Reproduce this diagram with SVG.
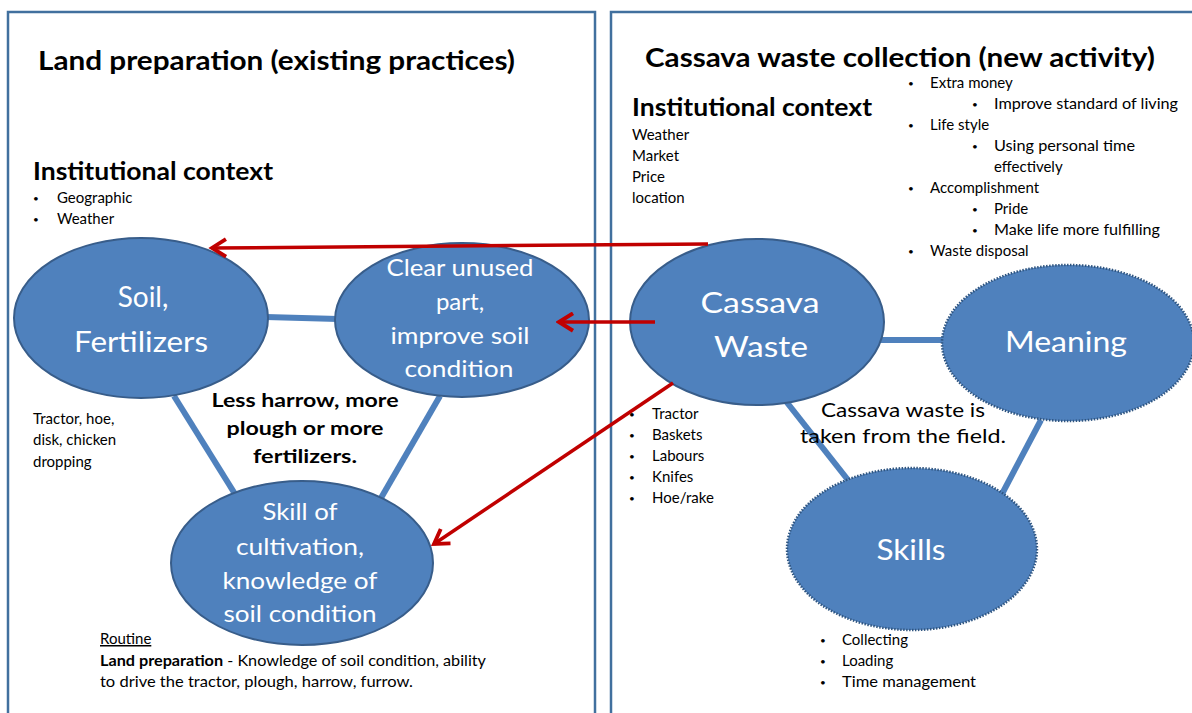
<svg xmlns="http://www.w3.org/2000/svg" width="1192" height="713" viewBox="0 0 1192 713">
<defs>
<style>
text{font-family:Lato,"Open Sans","Liberation Sans",sans-serif;fill:#000}
.panel{fill:none;stroke:#41709E;stroke-width:2.5}
.node{fill:#4F81BD;stroke:#385D8A;stroke-width:2}
.dnode{fill:#4F81BD;stroke:#2F5580;stroke-width:2.5;stroke-dasharray:1.5 1.5}
.lbl{fill:#fff;text-anchor:middle}
.big{font-size:28px}
.mid{font-size:24px}
.h1{font-size:26px;font-weight:bold}
.h2{font-size:24px;font-weight:bold}
.sm{font-size:15px}
.b{font-size:10px}
.link{stroke:#4F81BD;stroke-width:6;fill:none}
.red{stroke:#C00000;stroke-width:3.5;fill:none}
</style>
<marker id="ah" viewBox="0 0 12 12" refX="10" refY="6" markerWidth="6" markerHeight="6" orient="auto" markerUnits="strokeWidth">
<path d="M2,1 L10,6 L2,11" fill="none" stroke="#C00000" stroke-width="2.2"/>
</marker>
</defs>

<g id="panels">
<rect class="panel" x="8" y="12" width="587" height="740"/>
<rect class="panel" x="611" y="12" width="620" height="740"/>
</g>

<g id="headings">
<text class="h1" x="38" y="70" textLength="477" lengthAdjust="spacingAndGlyphs">Land preparation (existing practices)</text>
<text class="h1" x="645" y="67" textLength="510" lengthAdjust="spacingAndGlyphs">Cassava waste collection (new activity)</text>
<text class="h2" x="33" y="180" textLength="240" lengthAdjust="spacingAndGlyphs">Institutional context</text>
<text class="h2" x="632" y="116" textLength="240" lengthAdjust="spacingAndGlyphs">Institutional context</text>
</g>

<g id="connectors">
<line class="link" x1="266" y1="317" x2="338" y2="319"/>
<line class="link" x1="174" y1="396" x2="235" y2="494"/>
<line class="link" x1="440" y1="396" x2="381" y2="498"/>
<line class="link" x1="880" y1="340" x2="945" y2="340"/>
<line class="link" x1="785" y1="400" x2="848" y2="480"/>
<line class="link" x1="1041" y1="420" x2="1002" y2="494"/>
</g>

<g id="node-soil">
<ellipse class="node" cx="141" cy="318" rx="127" ry="80"/>
<text class="lbl big" x="143" y="307">Soil,</text>
<text class="lbl big" x="141" y="352" textLength="134" lengthAdjust="spacingAndGlyphs">Fertilizers</text>
</g>

<g id="node-clear">
<ellipse class="node" cx="462" cy="320" rx="127" ry="77"/>
<text class="lbl mid" x="460" y="276" textLength="147" lengthAdjust="spacingAndGlyphs">Clear unused</text>
<text class="lbl mid" x="460" y="310">part,</text>
<text class="lbl mid" x="460" y="344" textLength="139" lengthAdjust="spacingAndGlyphs">improve soil</text>
<text class="lbl mid" x="459" y="377" textLength="109" lengthAdjust="spacingAndGlyphs">condition</text>
</g>

<g id="node-skill">
<ellipse class="node" cx="302" cy="563" rx="131" ry="82"/>
<text class="lbl mid" x="300" y="520" textLength="75" lengthAdjust="spacingAndGlyphs">Skill of</text>
<text class="lbl mid" x="300" y="555" textLength="128" lengthAdjust="spacingAndGlyphs">cultivation,</text>
<text class="lbl mid" x="300" y="589" textLength="155" lengthAdjust="spacingAndGlyphs">knowledge of</text>
<text class="lbl mid" x="300" y="622" textLength="153" lengthAdjust="spacingAndGlyphs">soil condition</text>
</g>

<g id="node-cassava">
<ellipse class="node" cx="757" cy="322" rx="127" ry="83"/>
<text class="lbl big" x="760" y="313" textLength="119" lengthAdjust="spacingAndGlyphs">Cassava</text>
<text class="lbl big" x="761" y="357" textLength="94" lengthAdjust="spacingAndGlyphs">Waste</text>
</g>

<g id="node-meaning">
<ellipse class="dnode" cx="1068" cy="343" rx="126" ry="78"/>
<text class="lbl big" x="1066" y="352" textLength="122" lengthAdjust="spacingAndGlyphs">Meaning</text>
</g>

<g id="node-skills">
<ellipse class="dnode" cx="912" cy="549" rx="125" ry="81"/>
<text class="lbl big" x="911" y="560" textLength="69" lengthAdjust="spacingAndGlyphs">Skills</text>
</g>

<g id="arrows">
<line class="red" x1="708" y1="244" x2="212" y2="248" marker-end="url(#ah)"/>
<line class="red" x1="655" y1="322" x2="559" y2="322" marker-end="url(#ah)"/>
<line class="red" x1="673" y1="383" x2="434" y2="544" marker-end="url(#ah)"/>
</g>

<g id="left-texts">
<text class="b" x="33" y="202">•</text><text class="sm" x="57" y="203">Geographic</text>
<text class="b" x="33" y="223">•</text><text class="sm" x="57" y="224">Weather</text>
<text class="sm" x="33" y="424">Tractor, hoe,</text>
<text class="sm" x="33" y="445">disk, chicken</text>
<text class="sm" x="33" y="467">dropping</text>
<g style="font-size:19px;font-weight:bold;text-anchor:middle">
<text x="305" y="407" textLength="187" lengthAdjust="spacingAndGlyphs">Less harrow, more</text>
<text x="305" y="435" textLength="157" lengthAdjust="spacingAndGlyphs">plough or more</text>
<text x="305" y="463" textLength="104" lengthAdjust="spacingAndGlyphs">fertilizers.</text>
</g>
<text class="sm" x="100" y="644" text-decoration="underline">Routine</text>
<text class="sm" x="100" y="666" textLength="386" lengthAdjust="spacingAndGlyphs"><tspan font-weight="bold">Land preparation</tspan> - Knowledge of soil condition, ability</text>
<text class="sm" x="100" y="687" textLength="313" lengthAdjust="spacingAndGlyphs">to drive the tractor, plough, harrow, furrow.</text>
</g>

<g id="right-texts">
<text class="sm" x="632" y="140">Weather</text>
<text class="sm" x="632" y="161">Market</text>
<text class="sm" x="632" y="182">Price</text>
<text class="sm" x="632" y="203">location</text>

<text class="b" x="908" y="87">•</text><text class="sm" x="930" y="88">Extra money</text>
<text class="b" x="972" y="108">•</text><text class="sm" x="994" y="109" textLength="184" lengthAdjust="spacingAndGlyphs">Improve standard of living</text>
<text class="b" x="908" y="129">•</text><text class="sm" x="930" y="130">Life style</text>
<text class="b" x="972" y="150">•</text><text class="sm" x="994" y="151" textLength="141" lengthAdjust="spacingAndGlyphs">Using personal time</text>
<text class="sm" x="994" y="172">effectively</text>
<text class="b" x="908" y="192">•</text><text class="sm" x="930" y="193">Accomplishment</text>
<text class="b" x="972" y="213">•</text><text class="sm" x="994" y="214">Pride</text>
<text class="b" x="972" y="234">•</text><text class="sm" x="994" y="235" textLength="166" lengthAdjust="spacingAndGlyphs">Make life more fulfilling</text>
<text class="b" x="908" y="255">•</text><text class="sm" x="930" y="256">Waste disposal</text>

<text class="b" x="629" y="418">•</text><text class="sm" x="652" y="419">Tractor</text>
<text class="b" x="629" y="439">•</text><text class="sm" x="652" y="440">Baskets</text>
<text class="b" x="629" y="460">•</text><text class="sm" x="652" y="461">Labours</text>
<text class="b" x="629" y="481">•</text><text class="sm" x="652" y="482">Knifes</text>
<text class="b" x="629" y="502">•</text><text class="sm" x="652" y="503">Hoe/rake</text>

<g style="font-size:20px;text-anchor:middle">
<text x="903" y="417" textLength="164" lengthAdjust="spacingAndGlyphs">Cassava waste is</text>
<text x="903" y="443" textLength="206" lengthAdjust="spacingAndGlyphs">taken from the field.</text>
</g>

<text class="b" x="820" y="644">•</text><text class="sm" x="842" y="645">Collecting</text>
<text class="b" x="820" y="665">•</text><text class="sm" x="842" y="666">Loading</text>
<text class="b" x="820" y="686">•</text><text class="sm" x="842" y="687" textLength="134" lengthAdjust="spacingAndGlyphs">Time management</text>
</g>
</svg>
